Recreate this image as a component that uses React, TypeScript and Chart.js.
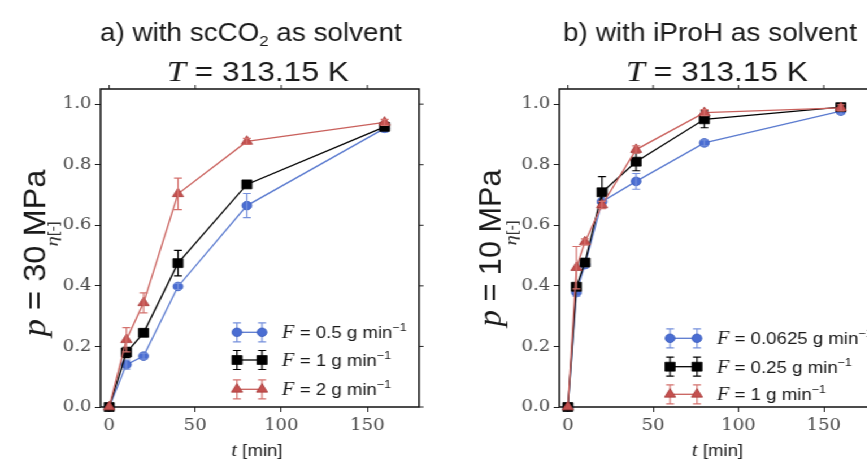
import React, { useEffect, useRef } from "react";
import { Chart, registerables } from "chart.js";
Chart.register(...registerables);

// ---------------- data ----------------
const timesA = [0, 10, 20, 40, 80, 160];
const etaA_F05 = [0, 0.14, 0.168, 0.398, 0.665, 0.92];
const errA_F05 = [0, 0.015, 0.01, 0.01, 0.04, 0.012];
const etaA_F1 = [0, 0.18, 0.245, 0.475, 0.735, 0.925];
const errA_F1 = [0, 0.017, 0.012, 0.042, 0.01, 0.012];
const etaA_F2 = [0, 0.222, 0.344, 0.704, 0.877, 0.94];
const errA_F2 = [0, 0.04, 0.033, 0.052, 0.01, 0.01];

const timesB = [0, 5, 10, 20, 40, 80, 160];
const etaB_F00625 = [0, 0.378, 0.47, 0.678, 0.745, 0.872, 0.977];
const errB_F00625 = [0, 0.012, 0.01, 0.01, 0.026, 0.01, 0.01];
const etaB_F025 = [0, 0.397, 0.477, 0.709, 0.81, 0.95, 0.99];
const errB_F025 = [0, 0.012, 0.012, 0.052, 0.03, 0.028, 0.01];
const etaB_F1 = [0, 0.46, 0.545, 0.667, 0.85, 0.972, 0.988];
const errB_F1 = [0, 0.07, 0.01, 0.012, 0.012, 0.01, 0.01];

const flowLabelsA = ["0.5", "1", "2"];
const flowLabelsB = ["0.0625", "0.25", "1"];
const xTickValues = [0, 50, 100, 150];
const yTickValues = [0, 0.2, 0.4, 0.6, 0.8, 1.0];
const xRange = [-5, 180];
const yRange = [0, 1.05];

// ---------------- styling ----------------
const S = 1.13; // horizontal stretch of the reference picture
const H = 462;
const PLOT_TOP = 89;
const PLOT_BOTTOM = 407;
const SANS = "'Liberation Sans', Arial, sans-serif";
const SERIF = "'Liberation Serif', 'Times New Roman', serif";
const TICK_SERIF = "DejaVu Serif";

type Shape = "circle" | "rect" | "triangle";
const STYLES: { shape: Shape; fill: string; line: string; edge: string; err: string; r: number }[] = [
  { shape: "circle", fill: "#4a6dd2", line: "#5a7acf", edge: "#3a5cbc", err: "#7590dc", r: 4.3 },
  { shape: "rect", fill: "#000000", line: "#000000", edge: "#000000", err: "#000000", r: 6.3 },
  { shape: "triangle", fill: "#c4504f", line: "#c9605c", edge: "#a83f3d", err: "#d4716d", r: 5.7 },
];

type Seg = { t: string; font: string; dy?: number };

function drawRich(
  ctx: CanvasRenderingContext2D,
  segs: Seg[],
  x: number,
  y: number,
  opts: { align?: "left" | "center"; rot?: boolean; target?: number; color?: string } = {}
) {
  ctx.save();
  ctx.translate(x, y);
  if (opts.rot) ctx.rotate(-Math.PI / 2);
  let w = 0;
  const ws = segs.map((s) => {
    ctx.font = s.font;
    const m = ctx.measureText(s.t).width;
    w += m;
    return m;
  });
  const k = opts.target ? opts.target / w : 1;
  ctx.scale(k, 1);
  let cx = opts.align === "left" ? 0 : -w / 2;
  ctx.fillStyle = opts.color || "#1a1a1a";
  ctx.textBaseline = "alphabetic";
  ctx.textAlign = "left";
  segs.forEach((s, i) => {
    ctx.font = s.font;
    ctx.fillText(s.t, cx, s.dy || 0);
    cx += ws[i];
  });
  ctx.restore();
}

function drawMarker(ctx: CanvasRenderingContext2D, shape: Shape, x: number, y: number, r: number, fill: string, edge: string) {
  ctx.save();
  ctx.beginPath();
  if (shape === "circle") {
    ctx.arc(x, y, r, 0, Math.PI * 2);
  } else if (shape === "rect") {
    const h = r * Math.SQRT1_2;
    ctx.rect(x - h, y - h, 2 * h, 2 * h);
  } else {
    let a = 0;
    ctx.moveTo(x + Math.sin(a) * r, y - Math.cos(a) * r);
    a += (2 * Math.PI) / 3;
    ctx.lineTo(x + Math.sin(a) * r, y - Math.cos(a) * r);
    a += (2 * Math.PI) / 3;
    ctx.lineTo(x + Math.sin(a) * r, y - Math.cos(a) * r);
    ctx.closePath();
  }
  ctx.fillStyle = fill;
  ctx.fill();
  ctx.lineWidth = 0.8;
  ctx.strokeStyle = edge;
  ctx.stroke();
  ctx.restore();
}

type Panel = {
  canvasLeft: number;
  canvasWidth: number;
  yAxisWidth: number;
  padRight: number;
  times: number[];
  series: { values: number[]; errors: number[]; flow: string }[];
  title: Seg[];
  titleX: number;
  titleTarget: number;
  tlineX: number;
  pressure: string;
  pX: number;
  pY: number;
  pTarget: number;
  etaX: number;
  etaY: number;
  xTitleX: number;
  legM1: number;
  legM2: number;
  legText: number;
  legRows: number[];
};

const panelA: Panel = {
  canvasLeft: 0,
  canvasWidth: 390,
  yAxisWidth: 89,
  padRight: 19.2,
  times: timesA,
  series: [
    { values: etaA_F05, errors: errA_F05, flow: flowLabelsA[0] },
    { values: etaA_F1, errors: errA_F1, flow: flowLabelsA[1] },
    { values: etaA_F2, errors: errA_F2, flow: flowLabelsA[2] },
  ],
  title: [
    { t: "a) with scCO", font: `25px ${SANS}` },
    { t: "2", font: `15px ${SANS}`, dy: 5 },
    { t: " as solvent", font: `25px ${SANS}` },
  ],
  titleX: 222,
  titleTarget: 267,
  tlineX: 228.3,
  pressure: "30",
  pX: 39.8,
  pY: 253,
  pTarget: 167,
  etaX: 50.8,
  etaY: 234,
  xTitleX: 227.4,
  legM1: 209.7,
  legM2: 231.9,
  legText: 249.6,
  legRows: [332.3, 360, 389.3],
};

const panelB: Panel = {
  canvasLeft: 390,
  canvasWidth: 392,
  yAxisWidth: 105,
  padRight: 7.7,
  times: timesB,
  series: [
    { values: etaB_F00625, errors: errB_F00625, flow: flowLabelsB[0] },
    { values: etaB_F025, errors: errB_F025, flow: flowLabelsB[1] },
    { values: etaB_F1, errors: errB_F1, flow: flowLabelsB[2] },
  ],
  title: [{ t: "b) with iProH as solvent", font: `25px ${SANS}` }],
  titleX: 238.3,
  titleTarget: 260,
  tlineX: 244.5,
  pressure: "10",
  pX: 52.5,
  pY: 248,
  pTarget: 157,
  etaX: 67,
  etaY: 233,
  xTitleX: 245,
  legM1: 203,
  legM2: 226.8,
  legText: 244.5,
  legRows: [338.3, 366.7, 394.3],
};

function makePlugin(p: Panel) {
  return {
    id: "decor",
    beforeDatasetsDraw(chart: any) {
      const { ctx, chartArea } = chart;
      const { left, right, top, bottom } = chartArea;
      const xs = chart.scales.x;
      const ys = chart.scales.y;
      ctx.save();
      ctx.strokeStyle = "#111";
      ctx.lineWidth = 1.5;
      ctx.strokeRect(left, top, right - left, bottom - top);
      ctx.lineWidth = 1;
      ctx.strokeStyle = "#222";
      ctx.beginPath();
      xTickValues.forEach((v) => {
        const x = xs.getPixelForValue(v);
        ctx.moveTo(x, top);
        ctx.lineTo(x, top - 4);
      });
      yTickValues.forEach((v) => {
        const y = ys.getPixelForValue(v);
        ctx.moveTo(right, y);
        ctx.lineTo(right + 4, y);
      });
      ctx.stroke();
      ctx.restore();
    },
    afterDatasetDraw(chart: any, args: any) {
      const i = args.index;
      const ds = chart.data.datasets[i];
      const xs = chart.scales.x;
      const ys = chart.scales.y;
      const ctx = chart.ctx;
      ctx.save();
      ctx.strokeStyle = STYLES[i].err;
      ctx.lineWidth = 1.2;
      ds.data.forEach((pt: any, j: number) => {
        const e = ds.errors[j];
        if (!e) return;
        const x = xs.getPixelForValue(pt.x);
        const y1 = ys.getPixelForValue(pt.y - e);
        const y2 = ys.getPixelForValue(pt.y + e);
        ctx.beginPath();
        ctx.moveTo(x, y1);
        ctx.lineTo(x, y2);
        ctx.moveTo(x - 3.5, y1);
        ctx.lineTo(x + 3.5, y1);
        ctx.moveTo(x - 3.5, y2);
        ctx.lineTo(x + 3.5, y2);
        ctx.stroke();
      });
      ctx.restore();
    },
    afterDraw(chart: any) {
      const ctx = chart.ctx as CanvasRenderingContext2D;
      // titles
      drawRich(ctx, p.title, p.titleX, 40.5, { target: p.titleTarget });
      drawRich(
        ctx,
        [
          { t: "T", font: `italic 29px ${SERIF}` },
          { t: " = 313.15 K", font: `27px ${SANS}` },
        ],
        p.tlineX,
        80.5,
        { target: 161 }
      );
      // y labels
      drawRich(
        ctx,
        [
          { t: "p", font: `italic 30px ${SERIF}` },
          { t: ` = ${p.pressure} MPa`, font: `28px ${SANS}` },
        ],
        p.pX,
        p.pY,
        { rot: true, target: p.pTarget }
      );
      drawRich(
        ctx,
        [
          { t: "η", font: `italic 15px ${SERIF}` },
          { t: "[-]", font: `12px ${SANS}` },
        ],
        p.etaX,
        p.etaY,
        { rot: true, color: "#333", target: 25 }
      );
      // x label
      drawRich(
        ctx,
        [
          { t: "t", font: `italic 18px ${SERIF}` },
          { t: " [min]", font: `16.5px ${SANS}` },
        ],
        p.xTitleX,
        456,
        { color: "#222" }
      );
      // legend
      p.series.forEach((s, i) => {
        const st = STYLES[i];
        const y = p.legRows[i];
        ctx.save();
        ctx.strokeStyle = st.line;
        ctx.lineWidth = 1.3;
        ctx.beginPath();
        ctx.moveTo(p.legM1, y);
        ctx.lineTo(p.legM2, y);
        ctx.stroke();
        ctx.strokeStyle = st.err;
        ctx.lineWidth = 1.2;
        [p.legM1, p.legM2].forEach((x) => {
          ctx.beginPath();
          ctx.moveTo(x, y - 9.5);
          ctx.lineTo(x, y + 9.5);
          ctx.moveTo(x - 3.5, y - 9.5);
          ctx.lineTo(x + 3.5, y - 9.5);
          ctx.moveTo(x - 3.5, y + 9.5);
          ctx.lineTo(x + 3.5, y + 9.5);
          ctx.stroke();
        });
        ctx.restore();
        drawMarker(ctx, st.shape, p.legM1, y, st.r, st.fill, st.edge);
        drawMarker(ctx, st.shape, p.legM2, y, st.r, st.fill, st.edge);
        drawRich(
          ctx,
          [
            { t: "F", font: `italic 18px ${SERIF}` },
            { t: ` = ${s.flow} g min`, font: `16.5px ${SANS}` },
            { t: "−1", font: `11px ${SANS}`, dy: -7 },
          ],
          p.legText,
          y + 6,
          { align: "left", color: "#1a1a1a" }
        );
      });
    },
  };
}

function makeConfig(p: Panel): any {
  return {
    type: "line",
    data: {
      datasets: p.series.map((s, i) => ({
        label: s.flow,
        data: p.times.map((t, j) => ({ x: t, y: s.values[j] })),
        errors: s.errors,
        borderColor: STYLES[i].line,
        borderWidth: 1.3,
        backgroundColor: STYLES[i].fill,
        pointStyle: STYLES[i].shape,
        pointRadius: STYLES[i].r,
        pointBackgroundColor: STYLES[i].fill,
        pointBorderColor: STYLES[i].edge,
        pointBorderWidth: 0.8,
        tension: 0,
        fill: false,
        clip: false,
        order: 2 - i,
      })),
    },
    options: {
      responsive: false,
      animation: false,
      events: [],
      layout: { padding: { top: PLOT_TOP, right: p.padRight, left: 0, bottom: 0 } },
      plugins: { legend: { display: false }, tooltip: { enabled: false }, title: { display: false } },
      scales: {
        x: {
          type: "linear",
          min: xRange[0],
          max: xRange[1],
          afterFit: (s: any) => {
            s.height = H - PLOT_BOTTOM;
          },
          afterBuildTicks: (s: any) => {
            s.ticks = xTickValues.map((v) => ({ value: v }));
          },
          ticks: {
            font: { family: TICK_SERIF, size: 16 },
            color: "#4a4a4a",
            padding: 4,
            maxRotation: 0,
            autoSkip: false,
            callback: (v: any) => String(v),
          },
          grid: { display: true, drawOnChartArea: false, drawTicks: true, tickLength: 5, color: "#222", lineWidth: 1 },
          border: { display: false },
        },
        y: {
          type: "linear",
          min: yRange[0],
          max: yRange[1],
          afterFit: (s: any) => {
            s.width = p.yAxisWidth;
          },
          afterBuildTicks: (s: any) => {
            s.ticks = yTickValues.map((v) => ({ value: v }));
          },
          ticks: {
            font: { family: TICK_SERIF, size: 16 },
            color: "#4a4a4a",
            padding: 3,
            autoSkip: false,
            callback: (v: any) => Number(v).toFixed(1),
          },
          grid: { display: true, drawOnChartArea: false, drawTicks: true, tickLength: 5, color: "#222", lineWidth: 1 },
          border: { display: false },
        },
      },
    },
    plugins: [makePlugin(p)],
  };
}

function PanelChart({ panel }: { panel: Panel }) {
  const ref = useRef<HTMLCanvasElement>(null);
  useEffect(() => {
    const chart = new Chart(ref.current as HTMLCanvasElement, makeConfig(panel));
    return () => chart.destroy();
  }, [panel]);
  return (
    <canvas
      ref={ref}
      width={panel.canvasWidth}
      height={H}
      style={{ position: "absolute", left: panel.canvasLeft, top: 0, width: panel.canvasWidth, height: H }}
    />
  );
}

export default function App() {
  return (
    <div
      style={{
        position: "fixed",
        left: 0,
        top: 0,
        width: 867,
        height: H,
        overflow: "hidden",
        background: "#fff",
      }}
    >
      <div
        style={{
          position: "absolute",
          left: 0,
          top: 0,
          width: 782,
          height: H,
          transform: `scaleX(${S})`,
          transformOrigin: "0 0",
        }}
      >
        <PanelChart panel={panelA} />
        <PanelChart panel={panelB} />
      </div>
    </div>
  );
}
